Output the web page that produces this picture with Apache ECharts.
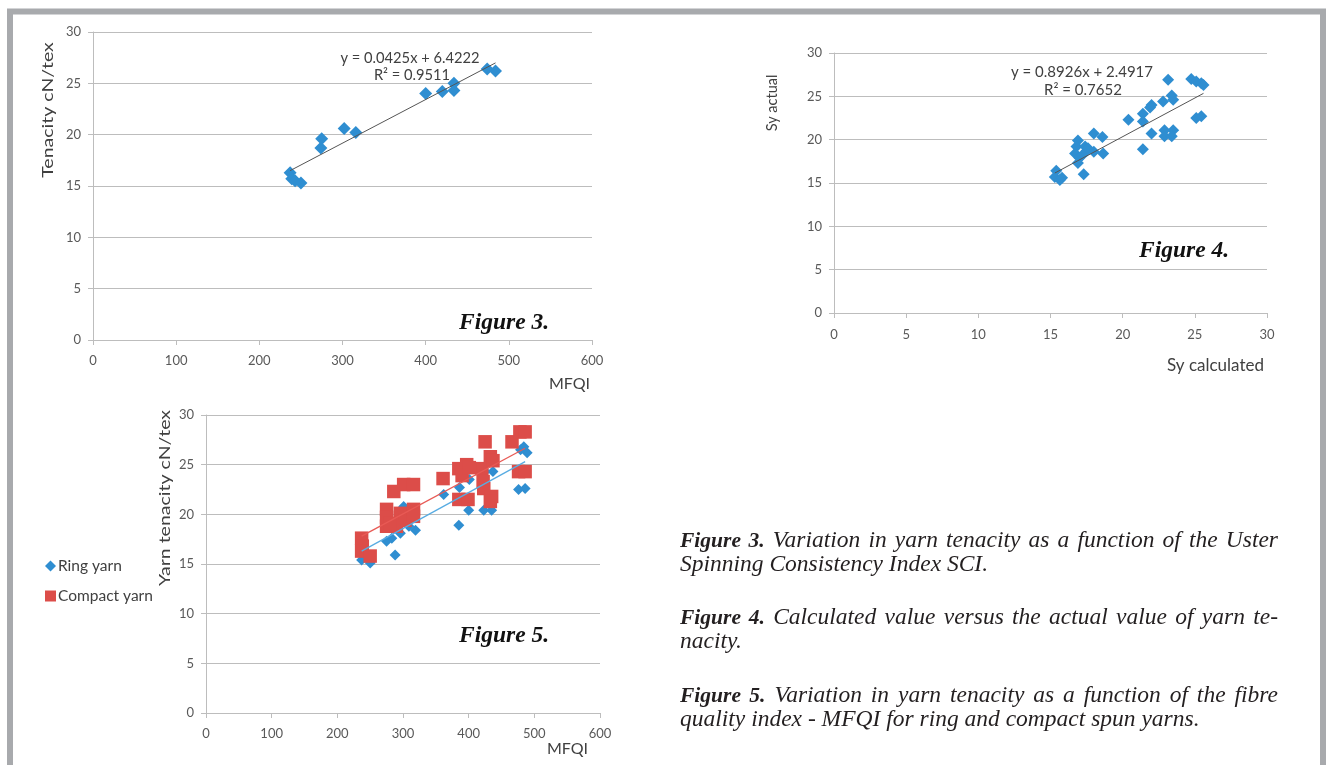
<!DOCTYPE html>
<html><head><meta charset="utf-8">
<script src="https://cdn.jsdelivr.net/npm/echarts@6/dist/echarts.min.js"></script>
<style>
html,body{margin:0;padding:0;background:#fff;}
#c{position:absolute;left:0;top:0;width:1326px;height:765px;}
.cap{position:absolute;left:680px;width:598px;font-family:'Liberation Serif','Times New Roman',serif;font-style:italic;font-size:23.5px;line-height:23px;color:#231f20;}
.cap div{white-space:nowrap;}
.cap .j{text-align:justify;text-align-last:justify;}
.cap b{font-weight:bold;font-size:21.5px;}
</style></head><body>
<div id="c"></div>
<div class="cap" style="top:528px"><div class="j"><b>Figure 3.</b> Variation in yarn tenacity as a function of the Uster</div><div>Spinning Consistency Index SCI.</div></div>
<div class="cap" style="top:605px"><div class="j"><b>Figure 4.</b> Calculated value versus the actual value of yarn te-</div><div>nacity.</div></div>
<div class="cap" style="top:683px"><div class="j"><b>Figure 5.</b> Variation in yarn tenacity as a function of the fibre</div><div>quality index - MFQI for ring and compact spun yarns.</div></div>
<script>
// ---------- Figure 3: Tenacity vs MFQI ----------
const fig3MFQI     = [237, 239, 243, 250, 274, 275, 302, 316, 400, 420, 434, 434, 474, 484];
const fig3Tenacity = [16.3, 15.7, 15.5, 15.3, 18.7, 19.6, 20.6, 20.2, 24.0, 24.2, 25.0, 24.3, 26.4, 26.2];
const fig3Trend    = {slope: 0.0425, intercept: 6.4222, r2: 0.9511};

// ---------- Figure 4: Sy calculated vs Sy actual ----------
const fig4Calc   = [15.4, 15.3, 15.65, 15.8, 17.3, 16.9, 16.8, 16.7, 17.0, 16.9, 17.4, 18.0, 18.6, 18.0, 18.65, 17.5, 17.2, 17.6,
                    20.4, 21.4, 21.4, 22.0, 21.9, 21.4, 22.0, 22.8, 23.4, 23.15, 23.5, 22.9, 22.9, 23.5, 23.4,
                    24.75, 25.1, 25.45, 25.6, 25.1, 25.45];
const fig4Actual = [16.4, 15.7, 15.35, 15.6, 16.0, 19.9, 19.2, 18.4, 17.9, 17.3, 19.2, 20.7, 20.3, 18.6, 18.4, 18.7, 18.2, 19.0,
                    22.3, 23.0, 22.1, 24.0, 23.7, 18.9, 20.7, 24.4, 25.1, 26.9, 24.6, 21.1, 20.4, 21.1, 20.4,
                    27.0, 26.7, 26.5, 26.3, 22.5, 22.7];
const fig4Trend  = {slope: 0.8926, intercept: 2.4917, r2: 0.7652};

// ---------- Figure 5: ring / compact yarn tenacity vs MFQI ----------
const ringMFQI     = [237, 250, 288, 275, 283, 296, 301, 309, 319, 362, 385, 386, 400, 401, 423, 425, 435, 437, 476, 486, 479, 489, 484];
const ringTenacity = [15.4, 15.1, 15.9, 17.3, 17.6, 18.1, 20.8, 18.8, 18.4, 22.0, 18.9, 22.7, 20.4, 23.5, 20.4, 24.3, 20.4, 24.3, 22.5, 22.6, 26.5, 26.2, 26.8];
const compactMFQI     = [237, 238, 237, 250, 275, 275, 275, 286, 301, 316, 296, 303, 316, 316, 290, 280, 361, 385, 385, 397, 399, 420, 425, 433, 423, 435, 466, 478, 486, 476, 486, 390, 401, 422, 437, 433];
const compactTenacity = [17.6, 16.8, 16.3, 15.8, 20.5, 19.7, 18.8, 22.3, 23.0, 23.0, 20.1, 19.4, 20.5, 19.8, 18.8, 19.1, 23.6, 24.6, 21.5, 25.0, 21.5, 24.6, 27.3, 25.8, 22.6, 21.8, 27.3, 28.3, 28.3, 24.3, 24.3, 23.9, 24.7, 23.3, 25.4, 21.3];
const ringTrendEnds    = [[237, 16.3], [486, 25.3]];
const compactTrendEnds = [[237, 17.8], [486, 26.65]];

const legendNames = ['Ring yarn', 'Compact yarn'];
const mfqiTicks = {min: 0, max: 600, interval: 100};
const tenTicks  = {min: 0, max: 30, interval: 5};
const syTicks   = {min: 0, max: 30, interval: 5};

// ---------- styles ----------
const BLUE = '#2f8ed1', RED = '#dc4d49';
const SANS = 'Lato, "Open Sans", sans-serif';
const SERIF = '"Liberation Serif", "Times New Roman", serif';
const GRIDC = '#bdbdbd';

function zip(a, b) { return a.map((v, i) => [v, b[i]]); }
function trendPts(xs, t) {
  const lo = Math.min(...xs), hi = Math.max(...xs);
  return [[lo, t.slope * lo + t.intercept], [hi, t.slope * hi + t.intercept]];
}
function xAx(gi, t, m) {
  return {gridIndex: gi, type: 'value', min: t.min, max: t.max, interval: t.interval,
    axisLine: {show: true, lineStyle: {color: GRIDC}}, axisTick: {show: true, length: 5, lineStyle: {color: GRIDC}},
    splitLine: {show: false},
    axisLabel: {color: '#595959', fontFamily: SANS, fontSize: 13, margin: m}};
}
function yAx(gi, t) {
  return {gridIndex: gi, type: 'value', min: t.min, max: t.max, interval: t.interval,
    axisLine: {show: true, lineStyle: {color: GRIDC}}, axisTick: {show: true, length: 5, lineStyle: {color: GRIDC}},
    splitLine: {show: true, lineStyle: {color: GRIDC, width: 1}},
    axisLabel: {color: '#595959', fontFamily: SANS, fontSize: 13, margin: 12}};
}
function txt(x, y, text, size, align) {
  return {type: 'text', x: x, y: y, z: 50,
    style: {text: text, fill: '#404040', font: size + 'px ' + SANS, align: align || 'center', verticalAlign: 'middle'}};
}
function vtxt(x, y, text, size, stretch) {
  // vertical axis title, stretched along its reading direction
  return {type: 'text', x: x, y: y, z: 50, rotation: Math.PI / 2, scaleX: stretch, scaleY: 1,
    style: {text: text, fill: '#404040', font: size + 'px ' + SANS, align: 'center', verticalAlign: 'middle'}};
}
function figLabel(x, y, text) {
  return {type: 'text', x: x, y: y, z: 50,
    style: {text: text, fill: '#111111', font: 'italic bold 23.5px ' + SERIF, align: 'left', verticalAlign: 'middle'}};
}

const chart = echarts.init(document.getElementById('c'), null, {renderer: 'canvas'});
const option = {
  animation: false,
  backgroundColor: '#ffffff',
  grid: [
    {left: 93, top: 32, width: 499, height: 308},
    {left: 834, top: 53, width: 433, height: 260},
    {left: 206, top: 415, width: 394, height: 298}
  ],
  xAxis: [xAx(0, mfqiTicks, 14), xAx(1, syTicks, 15), xAx(2, mfqiTicks, 14)],
  yAxis: [yAx(0, tenTicks), yAx(1, syTicks), yAx(2, tenTicks)],
  legend: {
    data: [{name: legendNames[0], icon: 'diamond'}, {name: legendNames[1], icon: 'rect'}],
    orient: 'vertical', left: 45, top: 558, padding: 0, itemGap: 14, itemWidth: 11, itemHeight: 11,
    textStyle: {color: '#404040', fontFamily: SANS, fontSize: 15.5, padding: [0, 0, 0, -3]}
  },
  series: [
    {type: 'scatter', xAxisIndex: 0, yAxisIndex: 0, data: zip(fig3MFQI, fig3Tenacity),
      symbol: 'diamond', symbolSize: 13, itemStyle: {color: BLUE, opacity: 1}},
    {type: 'line', xAxisIndex: 0, yAxisIndex: 0, data: trendPts(fig3MFQI, fig3Trend), symbol: 'none',
      lineStyle: {color: '#555555', width: 1}, z: 5},
    {type: 'scatter', xAxisIndex: 1, yAxisIndex: 1, data: zip(fig4Calc, fig4Actual),
      symbol: 'diamond', symbolSize: 12, itemStyle: {color: BLUE, opacity: 1}},
    {type: 'line', xAxisIndex: 1, yAxisIndex: 1, data: trendPts(fig4Calc, fig4Trend), symbol: 'none',
      lineStyle: {color: '#555555', width: 1}, z: 5},
    {name: legendNames[0], type: 'scatter', xAxisIndex: 2, yAxisIndex: 2, data: zip(ringMFQI, ringTenacity),
      symbol: 'diamond', symbolSize: 11, itemStyle: {color: BLUE, opacity: 1}},
    {name: legendNames[1], type: 'scatter', xAxisIndex: 2, yAxisIndex: 2, data: zip(compactMFQI, compactTenacity),
      symbol: 'rect', symbolSize: 13.5, itemStyle: {color: RED, opacity: 1}},
    {type: 'line', xAxisIndex: 2, yAxisIndex: 2, data: compactTrendEnds, symbol: 'none',
      lineStyle: {color: '#e85a55', width: 1.3}, z: 5},
    {type: 'line', xAxisIndex: 2, yAxisIndex: 2, data: ringTrendEnds, symbol: 'none',
      lineStyle: {color: '#58ace2', width: 1.3}, z: 5}
  ],
  graphic: [
    {type: 'rect', z: 100, silent: true, shape: {x: 10, y: 11.5, width: 1313, height: 800},
      style: {fill: null, stroke: '#a8aaad', lineWidth: 6}},
    // axis titles
    vtxt(48, 110, 'Tenacity cN/tex', 15, 1.3),
    txt(590, 384, 'MFQI', 16, 'right'),
    vtxt(772, 103, 'Sy actual', 14.5, 1),
    txt(1264, 366, 'Sy calculated', 17, 'right'),
    vtxt(165, 498, 'Yarn tenacity cN/tex', 15, 1.3),
    txt(588, 749, 'MFQI', 16, 'right'),
    // trend equations
    txt(410, 58, 'y = 0.0425x + 6.4222', 14.7),
    txt(412, 75, 'R\u00b2 = 0.9511', 14.7),
    txt(1082, 72, 'y = 0.8926x + 2.4917', 15),
    txt(1083, 90, 'R\u00b2 = 0.7652', 15),
    // figure labels
    figLabel(459, 323, 'Figure 3.'),
    figLabel(1139, 251, 'Figure 4.'),
    figLabel(459, 636, 'Figure 5.')
  ]
};
chart.setOption(option);
</script>
</body></html>
